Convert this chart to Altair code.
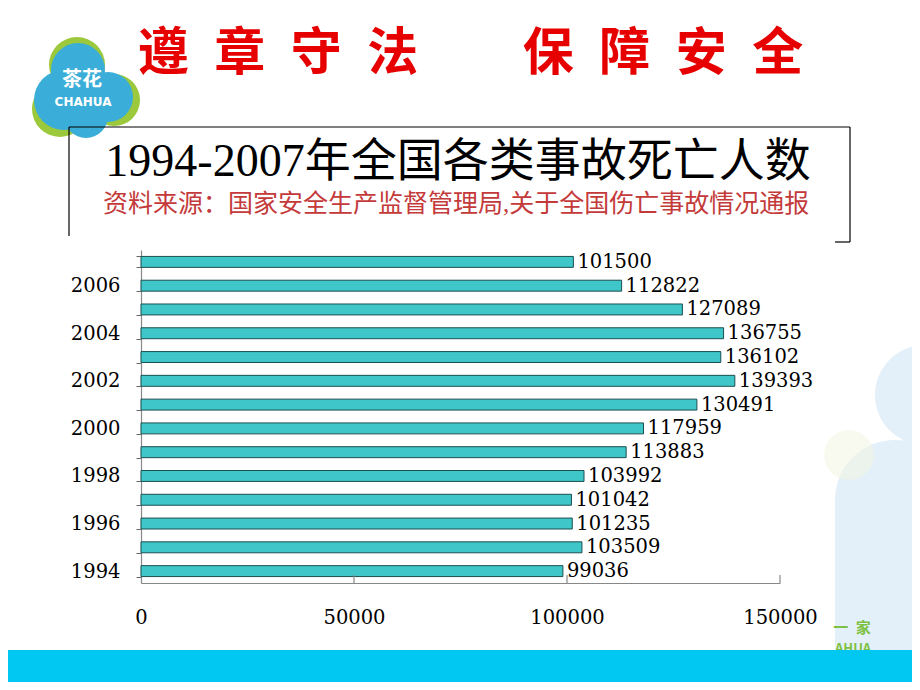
import altair as alt
import pandas as pd

# ---- data ----
years = [str(y) for y in range(1994, 2008)]
deaths = [99036, 103509, 101235, 101042, 103992, 113883, 117959,
          130491, 139393, 136102, 136755, 127089, 112822, 101500]
x_ticks = [0, 50000, 100000, 150000]
header_left = "遵\u2002章\u2002守\u2002法"
header_right = "保\u2002障\u2002安\u2002全"
title_text = "1994-2007年全国各类事故死亡人数"
subtitle_text = "资料来源：国家安全生产监督管理局,关于全国伤亡事故情况通报"

df = pd.DataFrame({"year": years, "deaths": deaths})
tick_df = pd.DataFrame({"v": x_ticks[1:]})
one = pd.DataFrame({"a": [0]})

SERIF = "DejaVu Serif"
MIX = "Liberation Serif, Noto Sans CJK SC"
CJK = "Noto Sans CJK SC"
year_order = years[::-1]


def txt(text, x, y, size, color, font=CJK, weight="normal", align="center", opacity=1):
    return alt.Chart(one).mark_text(
        text=text, font=font, fontSize=size, color=color, fontWeight=weight,
        align=align, baseline="middle", opacity=opacity
    ).encode(x=alt.value(x), y=alt.value(y))


def rule(x, x2, y, y2, color="black", w=1.2):
    return alt.Chart(one).mark_rule(color=color, strokeWidth=w).encode(
        x=alt.value(x), x2=alt.value(x2), y=alt.value(y), y2=alt.value(y2))


def rect(x, x2, y, y2, color, opacity=1):
    return alt.Chart(one).mark_rect(color=color, opacity=opacity).encode(
        x=alt.value(x), x2=alt.value(x2), y=alt.value(y), y2=alt.value(y2))


def circ(x, y, d, color, opacity=1):
    return alt.Chart(one).mark_circle(color=color, opacity=opacity).encode(
        x=alt.value(x), y=alt.value(y), size=alt.value(d * d))


# ---- background decorations (plot coords: page x-141, y-250) ----
deco = [
    circ(784, 145, 100, "#e3f0f9"),
    rect(694, 771, 250, 400, "#e3f0f9"),
    circ(754, 250, 120, "#e3f0f9"),
    circ(708, 205, 50, "#f3f5e0", 0.5),
    txt("一\u2002家", 711, 378, 15, "#7dc142", weight="bold"),
    txt("AHUA", 712, 399, 13, "#7dc142", weight="bold"),
    rect(-133, 771, 400, 432, "#00c8f2"),
    # logo
    circ(-64, -185, 56, "#9cc83c"),
    circ(-27, -150, 52, "#9cc83c"),
    circ(-81, -141, 56, "#9cc83c"),
    circ(-63, -180, 54, "#3aaed8"),
    circ(-77, -150, 60, "#3aaed8"),
    circ(-33, -153, 50, "#3aaed8"),
    circ(-55, -134, 44, "#3aaed8"),
    circ(-55, -160, 50, "#3aaed8"),
    txt("茶花", -59, -170, 20, "white", weight="bold"),
    txt("CHAHUA", -58, -148, 12, "white", font="DejaVu Sans", weight="bold"),
    # header
    txt(header_left, 137, -195, 51, "#e60000", weight="bold"),
    txt(header_right, 522, -195, 51, "#e60000", weight="bold"),
    # title box
    rule(-72, 709, -123, -123),
    rule(-72, -72, -123, -14),
    rule(709, 709, -123, -8),
    rule(694, 709, -8, -8),
    txt(title_text, 317, -88, 46, "black", font=MIX),
    txt(subtitle_text, 315, -46, 25, "#c43a3a", font=MIX),
]

# ---- chart ----
x_enc = alt.X("deaths:Q",
              scale=alt.Scale(domain=[0, 150000], nice=False, zero=True),
              axis=alt.Axis(values=x_ticks, format="d", title=None, grid=False,
                            ticks=False, tickSize=0, labelPadding=25, labelFlush=False,
                            labelFont=SERIF, labelFontSize=19.5, labelColor="black",
                            domainColor="#888888", domainWidth=1.2))
y_enc = alt.Y("year:N", sort=year_order,
              scale=alt.Scale(paddingInner=0.54, paddingOuter=0.27),
              axis=alt.Axis(title=None, tickBand="extent", tickSize=5, tickColor="#666666",
                            labelExpr="toNumber(datum.value) % 2 == 0 ? datum.value : ''",
                            labelFont=SERIF, labelFontSize=19.5, labelColor="black",
                            labelPadding=16, domainColor="#888888", domainWidth=1.2))

bars = alt.Chart(df).mark_bar(fill="#3ec6c8", stroke="#1c4f50", strokeWidth=1).encode(
    x=x_enc, y=y_enc)
labels = alt.Chart(df).mark_text(align="left", baseline="middle", dx=4, font=SERIF,
                                 fontSize=19.5, color="black").encode(
    x="deaths:Q", y=alt.Y("year:N", sort=year_order), text="deaths:Q")
ticks = alt.Chart(tick_df).mark_rule(color="#888888", strokeWidth=1.2).encode(
    x="v:Q", y=alt.value(325), y2=alt.value(333))

chart = alt.layer(*deco, bars, labels, ticks).properties(
    width=639, height=333,
    autosize=alt.AutoSizeParams(type="none"),
    padding={"left": 133, "top": 242, "right": 132, "bottom": 99},
    background="white",
).configure_view(stroke=None)

chart.save("out.html", embed_options={"renderer": "svg", "actions": False})
